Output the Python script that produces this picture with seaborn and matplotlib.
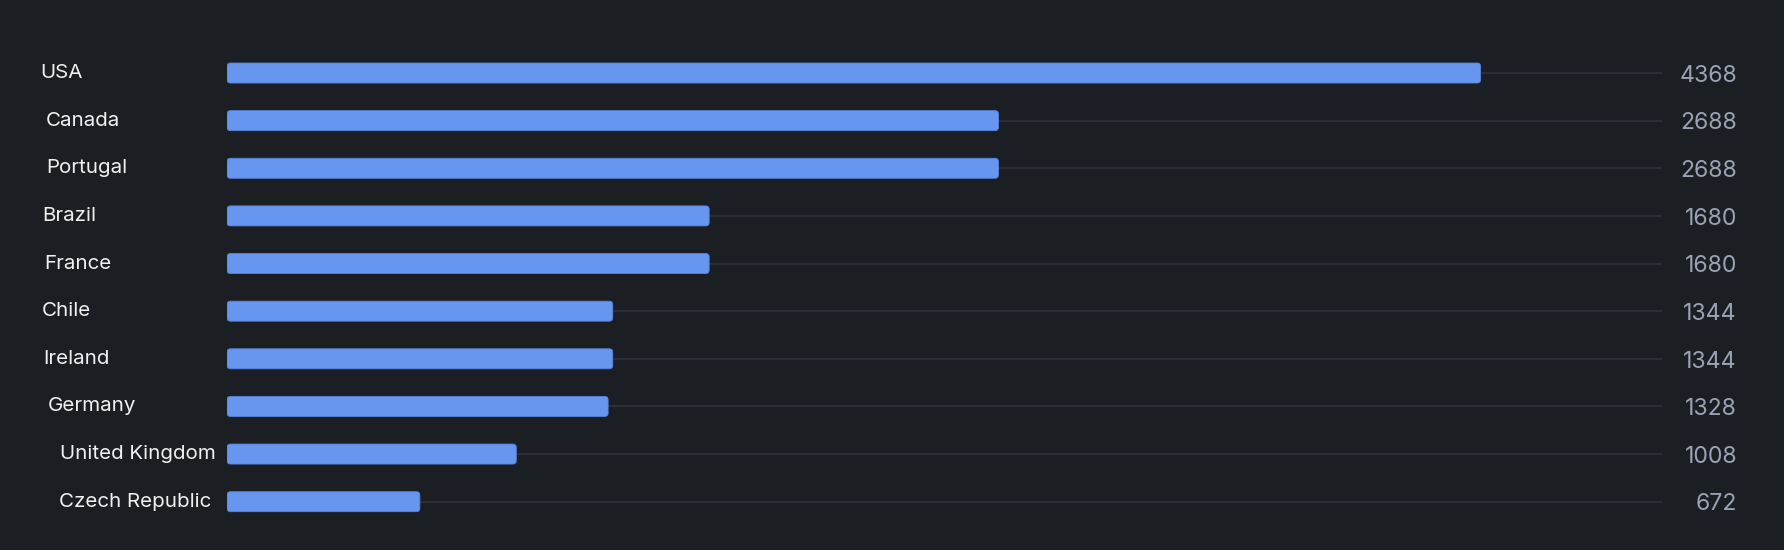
import matplotlib
matplotlib.use("Agg")
import matplotlib.pyplot as plt
import matplotlib.transforms as mtransforms
from matplotlib.patches import FancyBboxPatch
import seaborn as sns
import pandas as pd

countries = ["USA", "Canada", "Portugal", "Brazil", "France", "Chile",
             "Ireland", "Germany", "United Kingdom", "Czech Republic"]
values = [4368, 2688, 2688, 1680, 1680, 1344, 1344, 1328, 1008, 672]

# layout only: left pixel position of each category label
label_left_px = [40, 45.5, 46.7, 42, 44.4, 42, 43.5, 48, 60, 59]

BG = "#1b1e23"
BAR = "#6796f0"
BAR_EDGE = "#5a83d8"
GRID = "#2c2f36"
LABEL = "#f0f0f0"
VALUE = "#9aa3b5"

sns.set_theme(style="dark")
plt.rcParams["font.family"] = ["Inter", "DejaVu Sans"]

W, H = 1784, 550
fig = plt.figure(figsize=(W / 100, H / 100), dpi=100, facecolor=BG)
ax_left, ax_right = 227 / W, 1662 / W
ax_top, ax_bottom = 1 - 49.2 / H, 1 - 525.5 / H
ax = fig.add_axes([ax_left, ax_bottom, ax_right - ax_left, ax_top - ax_bottom])
ax.set_facecolor(BG)

df = pd.DataFrame({"country": countries, "value": values})
sns.barplot(data=df, x="value", y="country", orient="h", color=BAR,
            saturation=1, width=0.42, ax=ax, zorder=3)

n = len(countries)
xmax = 5000
ax.set_xlim(0, xmax)
ax.set_ylim(n - 0.5, -0.5)

# grid lines behind bars
ax.hlines(range(n), 0, xmax, color=GRID, lw=1.4, zorder=1)

# rounded bars
ax_w_px = (ax_right - ax_left) * W
ax_h_px = (ax_top - ax_bottom) * H
xu_per_px = xmax / ax_w_px
yu_per_px = n / ax_h_px
radius_px = 3.5
for p in list(ax.patches):
    x0, y0 = p.get_x(), p.get_y()
    w, h = p.get_width(), p.get_height()
    p.remove()
    fb = FancyBboxPatch((x0, y0), w, h,
                        boxstyle=f"round,pad=0,rounding_size={radius_px * xu_per_px}",
                        mutation_aspect=yu_per_px / xu_per_px,
                        facecolor=BAR, edgecolor=BAR_EDGE, lw=0.6, zorder=3)
    ax.add_patch(fb)

for s in ax.spines.values():
    s.set_visible(False)
ax.set_xlabel("")
ax.set_ylabel("")
ax.set_xticks([])
ax.tick_params(left=False, labelleft=False, bottom=False, labelbottom=False)
ax.grid(False)

# category labels
lab_trans = mtransforms.blended_transform_factory(fig.transFigure, ax.transData)
lab_trans = mtransforms.offset_copy(lab_trans, fig=fig, y=-3.6, units="points")
for i, c in enumerate(countries):
    fig.text(label_left_px[i] / W, i, c, transform=lab_trans, ha="left",
             va="baseline", color=LABEL, fontsize=14.8)

# value labels
val_trans = mtransforms.blended_transform_factory(fig.transFigure, ax.transData)
val_trans = mtransforms.offset_copy(val_trans, fig=fig, y=-6.3, units="points")
for i, v in enumerate(values):
    fig.text(1737 / W, i, f"{v}", transform=val_trans, ha="right", va="baseline",
             color=VALUE, fontsize=16.6)

fig.savefig("out.png", dpi=100, facecolor=BG)
